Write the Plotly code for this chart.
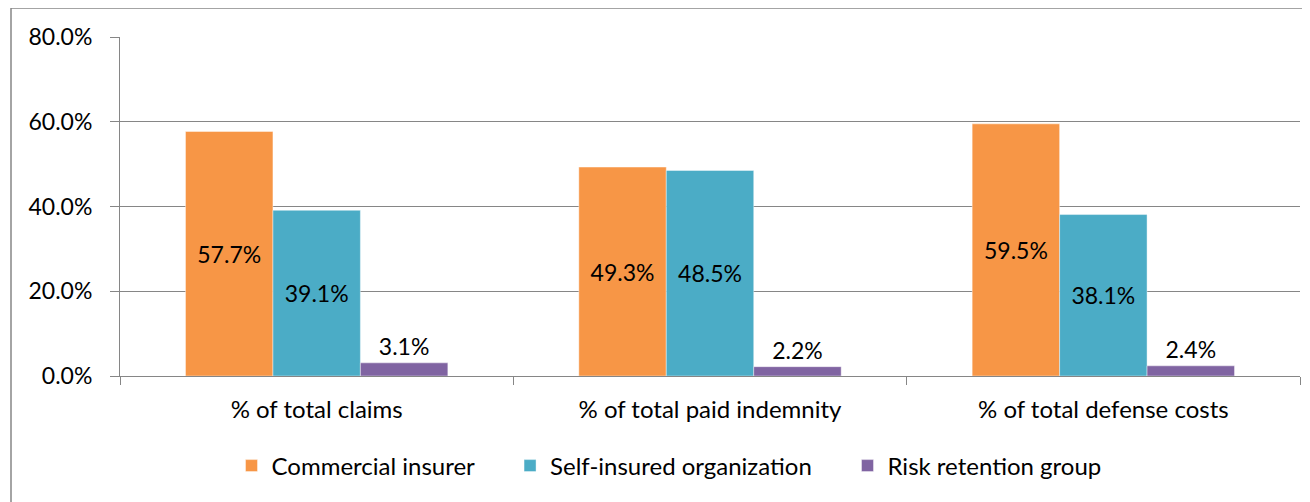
import plotly.graph_objects as go

categories = ["% of total claims", "% of total paid indemnity", "% of total defense costs"]
commercial = [57.7, 49.3, 59.5]
self_insured = [39.1, 48.5, 38.1]
risk_retention = [3.1, 2.2, 2.4]
series_names = ["Commercial insurer", "Self-insured organization", "Risk retention group"]
colors = ["#F79646", "#4BACC6", "#8064A2"]
y_ticks = [0, 20, 40, 60, 80]

# page body has an 8px margin; work in window pixels and offset
OFF = 8
W, H = 1310 - OFF, 502 - OFF
L, R, T, B = 120 - OFF, 10, 37 - OFF, 126
pw, ph = W - L - R, H - T - B

FONT = "Lato"
NUM = 23
TXT = 24
PAD = "\u00a0" * 5
fig = go.Figure()
for i, (name, vals, col) in enumerate(zip(series_names, [commercial, self_insured, risk_retention], colors)):
    pos = ["inside" if v > 10 else "outside" for v in vals]
    fig.add_trace(go.Bar(
        x=categories, y=vals, name=name + (PAD if i < 2 else ""),
        marker=dict(color=col, line=dict(width=0.6, color="rgba(255,255,255,0.7)")),
        text=[f"{v:.1f}%" for v in vals], textposition=pos,
        insidetextanchor="middle", textangle=0,
        textfont=dict(family=FONT, size=NUM, color="black"),
        insidetextfont=dict(family=FONT, size=NUM, color="black"),
        outsidetextfont=dict(family=FONT, size=NUM, color="black"),
        cliponaxis=False,
    ))

def px_x(p):
    return (p - OFF - L) / pw

def px_y(p):
    return 1 - (p - OFF - T) / ph

fig.update_layout(
    width=W, height=H,
    margin=dict(l=L, r=R, t=T, b=B, autoexpand=False),
    barmode="group", bargap=0.333, bargroupgap=0,
    plot_bgcolor="white", paper_bgcolor="white",
    font=dict(family=FONT, size=TXT, color="black"),
    showlegend=True,
    legend=dict(orientation="h", x=px_x(669), xanchor="center", y=px_y(466), yanchor="middle",
                font=dict(family=FONT, size=TXT), itemwidth=30, traceorder="normal",
                itemclick=False),
    xaxis=dict(showline=True, linecolor="#868686", linewidth=1, ticks="outside",
               tickson="boundaries", ticklen=8, tickcolor="#868686", showgrid=False,
               ticklabelstandoff=12, tickfont=dict(family=FONT, size=TXT)),
    yaxis=dict(range=[0, 80], tickvals=y_ticks, ticktext=[f"{v:.1f}%" for v in y_ticks],
               showline=True, linecolor="#868686", linewidth=1, ticks="outside", ticklen=9,
               tickcolor="#868686", showgrid=True, gridcolor="#868686", gridwidth=1,
               zeroline=False, ticklabelstandoff=13, tickfont=dict(family=FONT, size=NUM)),
    shapes=[dict(type="rect", xref="paper", yref="paper",
                 x0=px_x(11), x1=px_x(1314), y0=px_y(506), y1=px_y(8),
                 line=dict(color="#868686", width=1.5), fillcolor="rgba(0,0,0,0)", layer="below")],
)

fig.write_html("out.html")
